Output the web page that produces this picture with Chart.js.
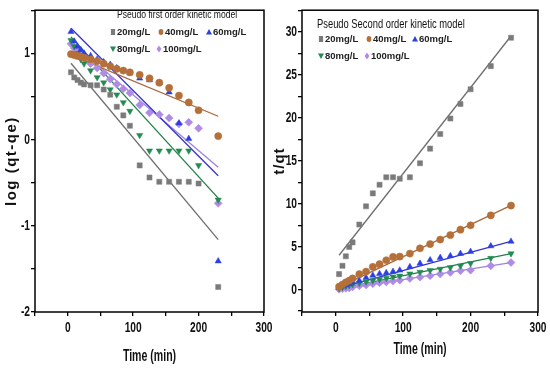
<!DOCTYPE html>
<html>
<head>
<meta charset="utf-8">
<script src="https://cdn.jsdelivr.net/npm/chart.js@4/dist/chart.umd.min.js"></script>
<style>
  body { margin: 0; background: #fff; }
  .wrap { position: relative; width: 550px; height: 372px; overflow: hidden; }
  #firstOrder { position: absolute; left: 0; top: 0; }
  #secondOrder { position: absolute; left: 268px; top: 0; }
</style>
</head>
<body>
<div class="wrap">
  <canvas id="firstOrder" width="280" height="372"></canvas>
  <canvas id="secondOrder" width="282" height="372"></canvas>
</div>
<script>
// series names
const seriesLabels = ["20mg/L", "40mg/L", "60mg/L", "80mg/L", "100mg/L"];

// pseudo first order: log(qt-qe) vs time
const timeFirst = [5, 10, 15, 20, 25, 35, 45, 55, 65, 75, 85, 95, 110, 125, 140, 155, 170, 185, 200, 230];
const first20 = [0.78, 0.72, 0.69, 0.66, 0.64, 0.63, 0.63, 0.58, 0.52, 0.38, 0.28, 0.16, -0.30, -0.44, -0.49, -0.49, -0.49, -0.49, -0.51, -1.71];
const first40 = [0.99, 0.98, 0.97, 0.96, 0.95, 0.93, 0.91, 0.88, 0.85, 0.82, 0.80, 0.78, 0.75, 0.71, 0.66, 0.60, 0.51, 0.43, 0.34, 0.04];
const first60 = [1.25, 1.14, 1.08, 1.04, 1.00, 0.97, 0.93, 0.90, 0.87, 0.83, 0.80, 0.77, 0.71, 0.69, 0.66, 0.55, 0.19, 0.01, null, -1.41];
const first80 = [1.15, 1.08, 1.00, 0.93, 0.88, 0.80, 0.72, 0.66, 0.58, 0.52, 0.43, 0.33, 0.05, -0.13, -0.13, -0.13, -0.13, -0.13, -0.30, -0.70];
const first100 = [1.11, 1.06, 1.02, 0.99, 0.95, 0.88, 0.83, 0.77, 0.70, 0.64, 0.59, 0.54, 0.40, 0.31, 0.29, 0.25, 0.18, 0.20, 0.13, -0.74];
// fitted lines (start, end)
const fitTimeFirst = [5, 230];
const fitFirst20 = [0.885, -1.16];
const fitFirst40 = [0.98, 0.27];
const fitFirst60 = [1.29, -0.42];
const fitFirst80 = [1.19, -0.68];
const fitFirst100 = [1.13, -0.32];

// pseudo second order: t/qt vs time
const timeSecond = [5, 10, 15, 20, 25, 35, 45, 55, 65, 75, 85, 95, 110, 125, 140, 155, 170, 185, 200, 230, 260];
const second20 = [1.81, 2.77, 3.88, 4.96, 5.5, 7.57, 9.69, 11.2, 12.2, 13.07, 13.07, 12.9, 13.07, 14.7, 16.4, 18.1, 19.9, 21.6, 23.3, 26.0, 29.3];
const second40 = [0.35, 0.6, 0.85, 1.05, 1.3, 1.8, 2.1, 2.65, 2.96, 3.42, 3.81, 3.85, 4.19, 4.81, 5.3, 5.82, 6.35, 6.98, 7.48, 8.64, 9.78];
const second60 = [0.25, 0.4, 0.55, 0.7, 0.85, 1.05, 1.4, 1.65, 1.85, 1.95, 2.1, 2.25, 2.65, 3.05, 3.45, 3.72, 3.92, 4.19, 4.42, 5.07, 5.6];
const second80 = [0.15, 0.3, 0.4, 0.5, 0.6, 0.75, 0.9, 1.05, 1.2, 1.35, 1.5, 1.6, 1.85, 2.05, 2.25, 2.4, 2.58, 2.78, 3.05, 3.66, 4.2];
const second100 = [0.05, 0.1, 0.15, 0.2, 0.3, 0.45, 0.55, 0.7, 0.8, 0.9, 1.0, 1.1, 1.3, 1.45, 1.61, 1.81, 2.0, 2.19, 2.27, 2.77, 3.15];
const fitTimeSecond = [5, 260];
const fitSecond20 = [4.0, 29.5];
const fitSecond40 = [0.3, 9.8];
const fitSecond60 = [0.2, 5.6];
const fitSecond80 = [0.1, 4.2];
const fitSecond100 = [0.0, 3.15];

// axis ticks
const xTicks = [-50, 0, 50, 100, 150, 200, 250, 300];
const xLabels = [0, 100, 200, 300];
const yTicksFirst = [-2, -1.5, -1, -0.5, 0, 0.5, 1, 1.5];
const yLabelsFirst = [-2, -1, 0, 1];
const yTicksSecond = [-2.5, 0, 2.5, 5, 7.5, 10, 12.5, 15, 17.5, 20, 22.5, 25, 27.5, 30, 32.5];
const yLabelsSecond = [0, 5, 10, 15, 20, 25, 30];

const markerColors = ["#7a7a7a", "#b5703a", "#2c3fe0", "#238a52", "#b08be6"];
const lineColors = ["#6e6e6e", "#a8683a", "#3434d4", "#1f7f45", "#9b82e6"];
const pointStyles = ["rect", "circle", "triangle", "triangle", "rectRot"];
const rotations = [0, 0, 0, 180, 0];

const sans = "'Liberation Sans', Arial, sans-serif";

function pairs(xs, ys) {
  return xs.map((x, i) => ({ x: x, y: ys[i] }));
}

function buildDatasets(times, series, fitTimes, fits) {
  const sets = [];
  series.forEach((vals, i) => {
    sets.push({
      type: "line",
      data: pairs(fitTimes, fits[i]),
      borderColor: lineColors[i],
      borderWidth: 1.3,
      pointRadius: 0,
      fill: false,
      order: 2
    });
  });
  series.forEach((vals, i) => {
    sets.push({
      type: "scatter",
      label: seriesLabels[i],
      data: pairs(times, vals),
      backgroundColor: markerColors[i],
      borderColor: markerColors[i],
      borderWidth: 0.5,
      pointStyle: pointStyles[i],
      rotation: rotations[i],
      pointRadius: i === 4 ? 4 : 3.6,
      order: 1
    });
  });
  return sets;
}

function drawMark(ctx, i, x, y, r) {
  ctx.save();
  ctx.fillStyle = markerColors[i];
  ctx.beginPath();
  if (i === 0) {
    ctx.rect(x - r * 0.7, y - r, r * 1.4, r * 2);
  } else if (i === 1) {
    ctx.ellipse(x, y, r * 0.8, r, 0, 0, Math.PI * 2);
  } else if (i === 2) {
    ctx.moveTo(x, y - r); ctx.lineTo(x + r, y + r * 0.8); ctx.lineTo(x - r, y + r * 0.8);
  } else if (i === 3) {
    ctx.moveTo(x, y + r); ctx.lineTo(x + r, y - r * 0.8); ctx.lineTo(x - r, y - r * 0.8);
  } else {
    ctx.moveTo(x, y - r * 1.2); ctx.lineTo(x + r * 0.8, y); ctx.lineTo(x, y + r * 1.2); ctx.lineTo(x - r * 0.8, y);
  }
  ctx.closePath();
  ctx.fill();
  ctx.restore();
}

// condensed text: no narrow font installed, so squeeze horizontally
function squeezeText(ctx, text, x, y, font, sx, align, rotate, spacing) {
  ctx.save();
  ctx.translate(x, y);
  if (rotate) ctx.rotate(-Math.PI / 2);
  ctx.scale(sx, 1);
  ctx.font = font;
  if (spacing) ctx.letterSpacing = spacing;
  ctx.fillStyle = "#111";
  ctx.textAlign = align;
  ctx.textBaseline = "middle";
  ctx.fillText(text, 0, 0);
  ctx.restore();
}

const framePlugin = {
  id: "frame",
  afterDraw(chart, args, opts) {
    const a = chart.chartArea;
    const ctx = chart.ctx;
    const xs = chart.scales.x;
    const ys = chart.scales.y;
    ctx.save();
    ctx.strokeStyle = "#000";
    ctx.lineWidth = 1.5;
    ctx.strokeRect(a.left, a.top, a.right - a.left, a.bottom - a.top);
    ctx.restore();

    // tick labels
    xLabels.forEach(v => {
      squeezeText(ctx, String(v), xs.getPixelForValue(v), a.bottom + 16, "bold 15px " + sans, 0.68, "center");
    });
    opts.yLabels.forEach(v => {
      squeezeText(ctx, String(v), a.left - 5, ys.getPixelForValue(v), "bold 15px " + sans, 0.68, "right");
    });
    // axis titles
    squeezeText(ctx, "Time (min)", (a.left + a.right) / 2, a.bottom + opts.xTitleGap, "bold 16px " + sans, 0.66, "center");
    squeezeText(ctx, opts.yTitle, opts.yTitleX, (a.top + a.bottom) / 2, "bold 15px " + sans, 1, "center", true, opts.yTitleSpacing);

    // legend box
    squeezeText(ctx, opts.title, opts.titleX, opts.titleY, opts.titleFont, 0.78, "left");
    ctx.save();
    ctx.textBaseline = "middle";
    ctx.textAlign = "left";
    ctx.font = "bold 9.5px " + sans;
    opts.items.forEach((it, i) => {
      drawMark(ctx, i, it[0], it[1], 3);
      ctx.fillStyle = "#222";
      ctx.fillText(seriesLabels[i], it[0] + 4, it[1] + 0.5);
    });
    ctx.restore();
  }
};

function makeChart(id, cfg) {
  return new Chart(document.getElementById(id), {
    data: { datasets: cfg.datasets },
    options: {
      responsive: false,
      animation: false,
      layout: { padding: cfg.padding },
      plugins: {
        legend: { display: false },
        tooltip: { enabled: false },
        frame: cfg.texts
      },
      scales: {
        x: {
          type: "linear",
          min: -50,
          max: 300,
          afterBuildTicks: s => { s.ticks = xTicks.map(v => ({ value: v })); },
          afterFit: s => { s.height = 60; },
          border: { display: false },
          grid: { drawOnChartArea: false, drawTicks: true, tickLength: 4, color: "#000", lineWidth: 1.3 },
          ticks: { maxRotation: 0, callback: () => "" }
        },
        y: {
          type: "linear",
          min: cfg.yMin,
          max: cfg.yMax,
          afterBuildTicks: s => { s.ticks = cfg.yTicks.map(v => ({ value: v })); },
          afterFit: s => { s.width = cfg.yWidth; },
          border: { display: false },
          grid: { drawOnChartArea: false, drawTicks: true, tickLength: 4, color: "#000", lineWidth: 1.3 },
          ticks: { callback: () => "" }
        }
      }
    },
    plugins: [framePlugin]
  });
}

makeChart("firstOrder", {
  datasets: buildDatasets(timeFirst, [first20, first40, first60, first80, first100],
    fitTimeFirst, [fitFirst20, fitFirst40, fitFirst60, fitFirst80, fitFirst100]),
  padding: { left: 0, right: 16, top: 9, bottom: 0 },
  yMin: -2, yMax: 1.5,
  yTicks: yTicksFirst,
  yWidth: 35,
  texts: {
    yLabels: yLabelsFirst,
    yTitle: "log (qt-qe)", yTitleX: 12, yTitleSpacing: "1.5px",
    xTitleGap: 45,
    title: "Pseudo first order kinetic model",
    titleFont: "11px " + sans,
    titleX: 117, titleY: 15,
    items: [[113, 32], [161, 32], [209, 32], [113, 49], [159, 49]]
  }
});

makeChart("secondOrder", {
  datasets: buildDatasets(timeSecond, [second20, second40, second60, second80, second100],
    fitTimeSecond, [fitSecond20, fitSecond40, fitSecond60, fitSecond80, fitSecond100]),
  padding: { left: 0, right: 12, top: 7, bottom: 0 },
  yMin: -2.6, yMax: 32.5,
  yTicks: yTicksSecond,
  yWidth: 34,
  texts: {
    yLabels: yLabelsSecond,
    yTitle: "t/qt", yTitleX: 12, yTitleSpacing: "1px",
    xTitleGap: 38,
    title: "Pseudo Second order kinetic model",
    titleFont: "12px " + sans,
    titleX: 49, titleY: 25,
    items: [[53, 39], [101, 39], [147, 39], [53, 56], [99, 56]]
  }
});
</script>
</body>
</html>
